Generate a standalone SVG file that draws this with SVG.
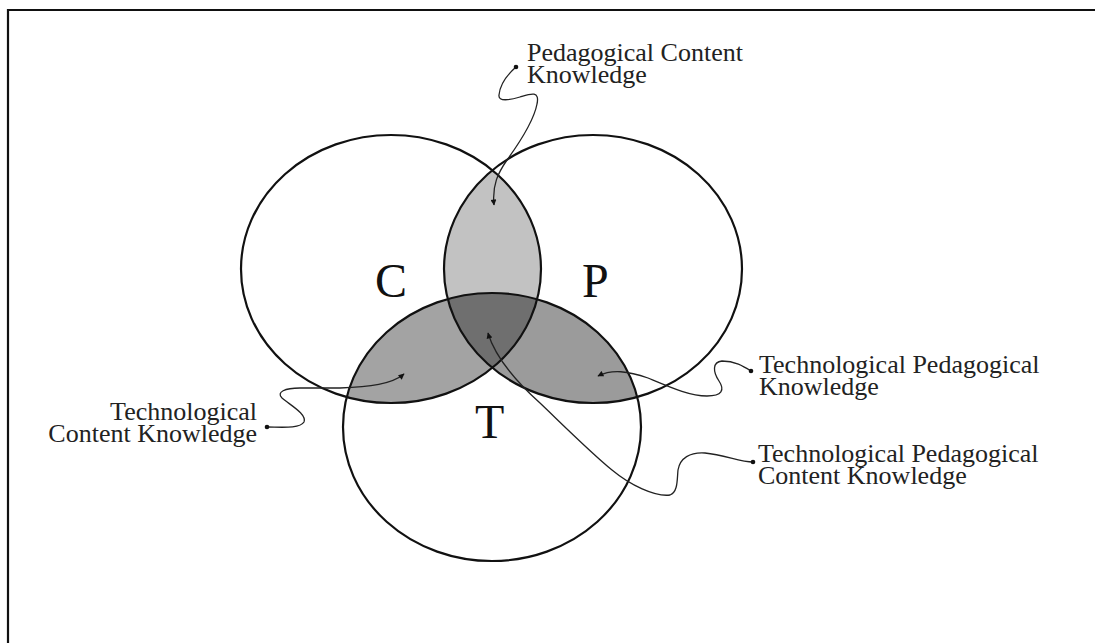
<svg xmlns="http://www.w3.org/2000/svg" width="1095" height="643" viewBox="0 0 1095 643">
  <style>
    .outline { fill: none; stroke: #111; stroke-width: 2.2; }
    .letter { font-family: "Liberation Serif", "Times New Roman", serif; font-size: 48px; fill: #111; }
    .label { font-family: "Liberation Serif", "Times New Roman", serif; font-size: 26px; fill: #222; }
    .leader { fill: none; stroke: #222; stroke-width: 1.3; marker-end: url(#tip); }
    .dot { fill: #111; }
  </style>
  <defs>
    <clipPath id="clip-c"><ellipse cx="391" cy="269" rx="150" ry="134"/></clipPath>
    <clipPath id="clip-p"><ellipse cx="593" cy="269" rx="149" ry="134"/></clipPath>
    <marker id="tip" viewBox="0 0 10 10" refX="9" refY="5" markerWidth="7" markerHeight="6" markerUnits="userSpaceOnUse" orient="auto">
      <path d="M0,0 L10,5 L0,10 Z" fill="#111"/>
    </marker>
  </defs>

  <rect width="1095" height="643" fill="#fff"/>
  <!-- frame -->
  <path d="M8,643 V10 H1095" fill="none" stroke="#111" stroke-width="2.2"/>

  <!-- overlap shading -->
  <g id="overlaps">
    <ellipse id="region-pck" cx="593" cy="269" rx="149" ry="134" fill="#c2c2c2" clip-path="url(#clip-c)"/>
    <ellipse id="region-tck" cx="492" cy="427" rx="149" ry="134" fill="#a3a3a3" clip-path="url(#clip-c)"/>
    <ellipse id="region-tpk" cx="492" cy="427" rx="149" ry="134" fill="#9b9b9b" clip-path="url(#clip-p)"/>
    <g clip-path="url(#clip-c)">
      <ellipse id="region-tpck" cx="492" cy="427" rx="149" ry="134" fill="#6f6f6f" clip-path="url(#clip-p)"/>
    </g>
  </g>

  <!-- the three knowledge domains -->
  <g id="node-c">
    <ellipse class="outline" cx="391" cy="269" rx="150" ry="134"/>
    <text class="letter" x="375" y="297">C</text>
  </g>
  <g id="node-p">
    <ellipse class="outline" cx="593" cy="269" rx="149" ry="134"/>
    <text class="letter" x="582" y="297">P</text>
  </g>
  <g id="node-t">
    <ellipse class="outline" cx="492" cy="427" rx="149" ry="134"/>
    <text class="letter" x="475" y="438">T</text>
  </g>

  <!-- leader lines from the labels into the overlaps -->
  <g id="leaders">
    <path class="leader" d="M516,67 C508,74 500,84 499,95 C498,102 510,100 520,97 C530,94 540,90 537,104 C534,120 520,142 507,160 C498,173 492,185 494,205"/>
    <path class="leader" d="M267,427 C280,427 300,429 304,422 C307,414 290,405 282,398 C276,392 285,388 300,388 L340,388 C370,387 392,384 404,374"/>
    <path class="leader" d="M751,371 C743,366 735,361 722,361 C712,362 713,372 719,381 C725,390 722,396 707,396 C690,396 672,388 648,378 C628,371 612,369 598,376"/>
    <path class="leader" d="M753,462 C740,462 725,455 705,453 C690,452 680,458 678,470 C677,480 678,492 670,495 C655,497 630,485 612,470 C590,452 560,422 540,403 C520,385 496,360 488,333"/>
    <circle class="dot" cx="516" cy="67" r="2.3"/>
    <circle class="dot" cx="267" cy="427" r="2.3"/>
    <circle class="dot" cx="751" cy="371" r="2.3"/>
    <circle class="dot" cx="753" cy="462" r="2.3"/>
  </g>

  <g id="label-pck">
    <text class="label" x="527" y="61">Pedagogical Content</text>
    <text class="label" x="527" y="83">Knowledge</text>
  </g>
  <g id="label-tck">
    <text class="label" x="257" y="420" text-anchor="end">Technological</text>
    <text class="label" x="257" y="442" text-anchor="end">Content Knowledge</text>
  </g>
  <g id="label-tpk">
    <text class="label" x="759" y="373">Technological Pedagogical</text>
    <text class="label" x="759" y="395">Knowledge</text>
  </g>
  <g id="label-tpck">
    <text class="label" x="758" y="462">Technological Pedagogical</text>
    <text class="label" x="758" y="484">Content Knowledge</text>
  </g>
</svg>
